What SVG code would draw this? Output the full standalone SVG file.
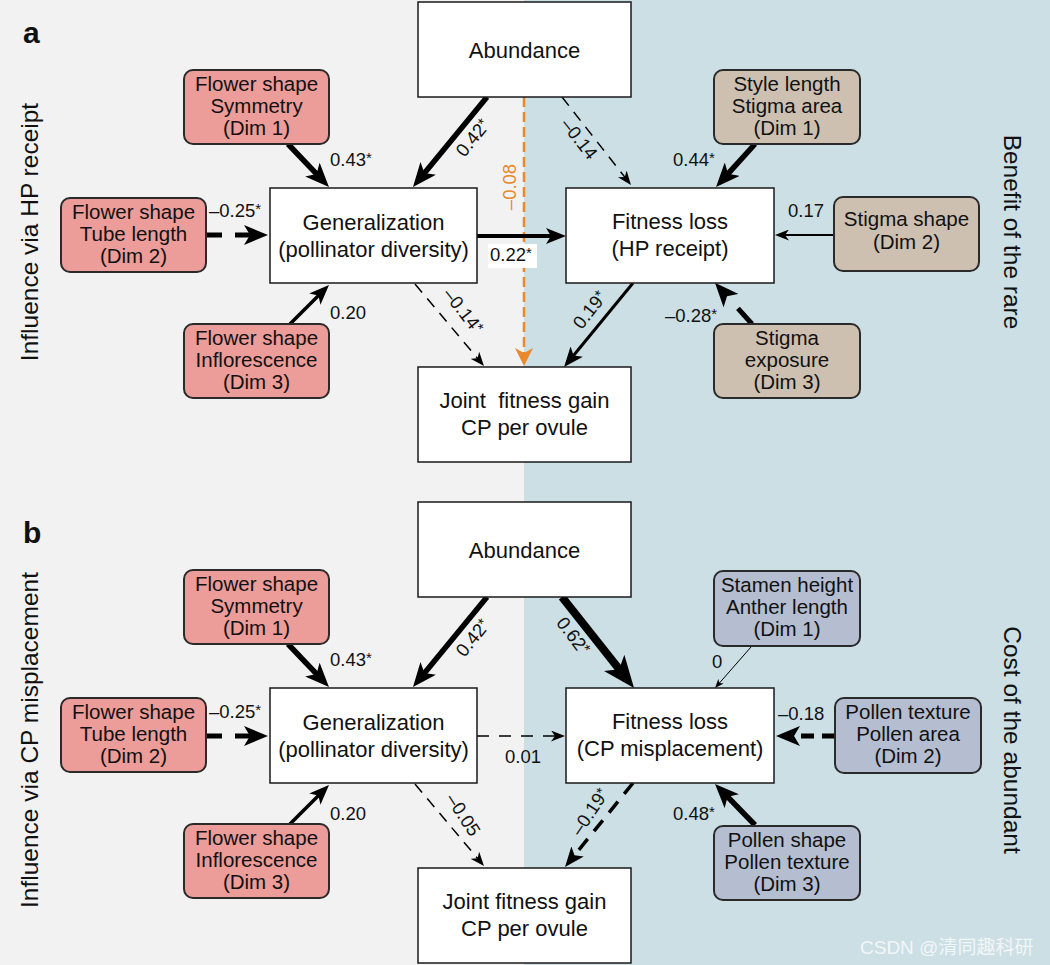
<svg xmlns="http://www.w3.org/2000/svg" width="1050" height="965" viewBox="0 0 1050 965">
<style>
text{font-family:"Liberation Sans",Arial,"Noto Sans CJK SC",sans-serif;fill:#111}
.main{fill:#fff;stroke:#1a1a1a;stroke-width:1.5}
.mt{font-size:22px;text-anchor:middle}
.pink{fill:#ec9c99;stroke:#2a2a2a;stroke-width:2}
.tan{fill:#cdc0b1;stroke:#2a2a2a;stroke-width:2}
.blu{fill:#b5bdd0;stroke:#2a2a2a;stroke-width:2}
.bt{font-size:20.5px;text-anchor:middle}
.lb{font-size:18.5px}
.lc{font-size:18.5px;text-anchor:middle}
.side{font-size:24.5px;text-anchor:middle}
.e{fill:none;stroke:#000}
.ast{font-size:15px}
</style>
<defs>
<marker id="ah-xl" viewBox="0 0 32 26" refX="11" refY="13" markerWidth="32" markerHeight="26" markerUnits="userSpaceOnUse" orient="auto"><path d="M32,13 L0,0 L8,13 L0,26 Z" fill="#000"/></marker>
<marker id="ah-l" viewBox="0 0 24 20" refX="9" refY="10" markerWidth="24" markerHeight="20" markerUnits="userSpaceOnUse" orient="auto"><path d="M24,10 L0,0 L6,10 L0,20 Z" fill="#000"/></marker>
<marker id="ah-m" viewBox="0 0 20 16" refX="7" refY="8" markerWidth="20" markerHeight="16" markerUnits="userSpaceOnUse" orient="auto"><path d="M20,8 L0,0 L5,8 L0,16 Z" fill="#000"/></marker>
<marker id="ah-s" viewBox="0 0 14 11" refX="5" refY="5.5" markerWidth="14" markerHeight="11" markerUnits="userSpaceOnUse" orient="auto"><path d="M14,5.5 L0,0 L4,5.5 L0,11 Z" fill="#000"/></marker>
<marker id="ah-xs" viewBox="0 0 9 7" refX="3" refY="3.5" markerWidth="9" markerHeight="7" markerUnits="userSpaceOnUse" orient="auto"><path d="M9,3.5 L0,0 L2.5,3.5 L0,7 Z" fill="#000"/></marker>
<marker id="ah-or" viewBox="0 0 18 18" refX="7" refY="9" markerWidth="18" markerHeight="18" markerUnits="userSpaceOnUse" orient="auto"><path d="M18,9 L0,0 L5,9 L0,18 Z" fill="#e8892b"/></marker>
</defs>

<!-- backgrounds -->
<rect x="0" y="0" width="524" height="965" fill="#f2f2f2"/>
<rect x="524" y="0" width="526" height="965" fill="#cbdfe5"/>

<!-- panel labels & side titles -->
<text x="23" y="43" style="font-size:30px;font-weight:bold">a</text>
<text x="23" y="543" style="font-size:30px;font-weight:bold">b</text>
<text class="side" transform="translate(38,232) rotate(-90)">Influence via HP receipt</text>
<text class="side" transform="translate(38,740) rotate(-90)">Influence via CP misplacement</text>
<text class="side" transform="translate(1004,232) rotate(90)">Benefit of the rare</text>
<text class="side" transform="translate(1004,740) rotate(90)">Cost of the abundant</text>

<!-- connectors -->
<g id="connectors">
  <!-- panel a -->
  <path class="e" d="M487,97 L422.5,175.4" stroke-width="5.5" marker-end="url(#ah-l)"/>
  <path d="M524,97 L524,355" fill="none" stroke="#e8892b" stroke-width="2.5" stroke-dasharray="10,5" marker-end="url(#ah-or)"/>
  <path class="e" d="M562,97 L625.4,177.9" stroke-width="1.5" stroke-dasharray="11,8" marker-end="url(#ah-s)"/>
  <path class="e" d="M477,236 L553,236" stroke-width="4" marker-end="url(#ah-m)"/>
  <path class="e" d="M415,284 L478.2,359.1" stroke-width="1.5" stroke-dasharray="11,8" marker-end="url(#ah-s)"/>
  <path class="e" d="M633,283 L572.3,357" stroke-width="3" marker-end="url(#ah-m)"/>
  <path class="e" d="M288,144 L318.6,176.1" stroke-width="5.5" marker-end="url(#ah-l)"/>
  <path class="e" d="M207,235 L253,235" stroke-width="5" stroke-dasharray="15,13" marker-end="url(#ah-l)"/>
  <path class="e" d="M290,324 L319.8,294.2" stroke-width="3.5" marker-end="url(#ah-m)"/>
  <path class="e" d="M755,144 L726.1,175.9" stroke-width="5.5" marker-end="url(#ah-l)"/>
  <path class="e" d="M834,235 L784,235" stroke-width="2" marker-end="url(#ah-s)"/>
  <path class="e" d="M752,324 L725,294" stroke-width="5" stroke-dasharray="21,30" marker-end="url(#ah-l)"/>
  <!-- panel b -->
  <path class="e" d="M487,597 L422.5,675.4" stroke-width="5.5" marker-end="url(#ah-l)"/>
  <path class="e" d="M562,597 L621,671.5" stroke-width="8" marker-end="url(#ah-xl)"/>
  <path class="e" d="M477,736 L556,736" stroke-width="1.5" stroke-dasharray="12,10" marker-end="url(#ah-s)"/>
  <path class="e" d="M415,784 L478.2,859.1" stroke-width="1.5" stroke-dasharray="11,8" marker-end="url(#ah-s)"/>
  <path class="e" d="M633,783 L573.2,856.9" stroke-width="3.5" stroke-dasharray="14,10" marker-end="url(#ah-m)"/>
  <path class="e" d="M288,644 L318.6,676.1" stroke-width="5.5" marker-end="url(#ah-l)"/>
  <path class="e" d="M207,736 L253,736" stroke-width="5" stroke-dasharray="15,13" marker-end="url(#ah-l)"/>
  <path class="e" d="M290,824 L319.8,794.2" stroke-width="3.5" marker-end="url(#ah-m)"/>
  <path class="e" d="M751,647 L719,683.5" stroke-width="1" marker-end="url(#ah-xs)"/>
  <path class="e" d="M835,736 L791,736" stroke-width="5" stroke-dasharray="13,8" marker-end="url(#ah-l)"/>
  <path class="e" d="M755,825 L725.5,794.7" stroke-width="5.5" marker-end="url(#ah-l)"/>

  <!-- labels panel a -->
  <text class="lb" x="330" y="166">0.43<tspan class="ast" dy="-3">*</tspan></text>
  <text class="lb" x="209" y="217">–0.25<tspan class="ast" dy="-3">*</tspan></text>
  <text class="lb" x="330" y="319">0.20</text>
  <text class="lc" transform="translate(473,138) rotate(-51)" y="6">0.42<tspan class="ast" dy="-3">*</tspan></text>
  <text class="lc" transform="translate(510,187) rotate(-90)" y="6" style="fill:#e8892b">–0.08</text>
  <text class="lc" transform="translate(579,139) rotate(52)" y="6">–0.14</text>
  <rect x="488" y="244" width="49" height="24" fill="#fff"/>
  <text class="lb" x="490" y="261">0.22<tspan class="ast" dy="-3">*</tspan></text>
  <text class="lc" transform="translate(463,311) rotate(52)" y="6">–0.14<tspan class="ast" dy="-3">*</tspan></text>
  <text class="lc" transform="translate(590,310) rotate(-52)" y="6">0.19<tspan class="ast" dy="-3">*</tspan></text>
  <text class="lb" x="673" y="166">0.44<tspan class="ast" dy="-3">*</tspan></text>
  <text class="lb" x="788" y="217">0.17</text>
  <text class="lb" x="665" y="322">–0.28<tspan class="ast" dy="-3">*</tspan></text>
  <!-- labels panel b -->
  <text class="lb" x="330" y="666">0.43<tspan class="ast" dy="-3">*</tspan></text>
  <text class="lb" x="209" y="718">–0.25<tspan class="ast" dy="-3">*</tspan></text>
  <text class="lb" x="330" y="820">0.20</text>
  <text class="lc" transform="translate(473,638) rotate(-51)" y="6">0.42<tspan class="ast" dy="-3">*</tspan></text>
  <text class="lc" transform="translate(573,636) rotate(53)" y="6">0.62<tspan class="ast" dy="-3">*</tspan></text>
  <text class="lb" x="505" y="763">0.01</text>
  <text class="lc" transform="translate(463,815) rotate(57)" y="6">–0.05</text>
  <text class="lc" transform="translate(590,812) rotate(-56)" y="6">–0.19<tspan class="ast" dy="-3">*</tspan></text>
  <text class="lb" x="712" y="668">0</text>
  <text class="lb" x="778" y="720">–0.18</text>
  <text class="lb" x="673" y="820">0.48<tspan class="ast" dy="-3">*</tspan></text>
</g>

<!-- panel a nodes -->
<g id="a-abundance"><rect class="main" x="418" y="2" width="213" height="95"/><text class="mt" x="524.5" y="58">Abundance</text></g>
<g id="a-generalization"><rect class="main" x="270" y="188" width="207" height="95"/><text class="mt" x="373.5" y="230">Generalization</text><text class="mt" x="373.5" y="257">(pollinator diversity)</text></g>
<g id="a-fitness"><rect class="main" x="566" y="188" width="208" height="95"/><text class="mt" x="670" y="229">Fitness loss</text><text class="mt" x="670" y="256">(HP receipt)</text></g>
<g id="a-joint"><rect class="main" x="418" y="367" width="213" height="95"/><text class="mt" x="524.5" y="408" xml:space="preserve">Joint  fitness gain</text><text class="mt" x="524.5" y="435">CP per ovule</text></g>
<g id="a-dim1"><rect class="pink" x="184" y="70" width="145" height="74" rx="9"/><text class="bt" x="256.5" y="91">Flower shape</text><text class="bt" x="256.5" y="113">Symmetry</text><text class="bt" x="256.5" y="135">(Dim 1)</text></g>
<g id="a-dim2"><rect class="pink" x="61" y="198" width="145" height="74" rx="9"/><text class="bt" x="133.5" y="219">Flower shape</text><text class="bt" x="133.5" y="241">Tube length</text><text class="bt" x="133.5" y="263">(Dim 2)</text></g>
<g id="a-dim3"><rect class="pink" x="184" y="324" width="145" height="74" rx="9"/><text class="bt" x="256.5" y="345">Flower shape</text><text class="bt" x="256.5" y="367">Inflorescence</text><text class="bt" x="256.5" y="389">(Dim 3)</text></g>
<g id="a-stig1"><rect class="tan" x="714" y="70" width="146" height="74" rx="9"/><text class="bt" x="787" y="91">Style length</text><text class="bt" x="787" y="113">Stigma area</text><text class="bt" x="787" y="135">(Dim 1)</text></g>
<g id="a-stig2"><rect class="tan" x="834" y="197" width="145" height="74" rx="9"/><text class="bt" x="906.5" y="226">Stigma shape</text><text class="bt" x="906.5" y="249">(Dim 2)</text></g>
<g id="a-stig3"><rect class="tan" x="714" y="324" width="146" height="74" rx="9"/><text class="bt" x="787" y="345">Stigma</text><text class="bt" x="787" y="367">exposure</text><text class="bt" x="787" y="389">(Dim 3)</text></g>

<!-- panel b nodes -->
<g id="b-abundance"><rect class="main" x="418" y="502" width="213" height="95"/><text class="mt" x="524.5" y="558">Abundance</text></g>
<g id="b-generalization"><rect class="main" x="270" y="688" width="207" height="95"/><text class="mt" x="373.5" y="730">Generalization</text><text class="mt" x="373.5" y="757">(pollinator diversity)</text></g>
<g id="b-fitness"><rect class="main" x="566" y="688" width="208" height="95"/><text class="mt" x="670" y="729">Fitness loss</text><text class="mt" x="670" y="756">(CP misplacement)</text></g>
<g id="b-joint"><rect class="main" x="418" y="868" width="213" height="95"/><text class="mt" x="524.5" y="909">Joint fitness gain</text><text class="mt" x="524.5" y="936">CP per ovule</text></g>
<g id="b-dim1"><rect class="pink" x="184" y="570" width="145" height="74" rx="9"/><text class="bt" x="256.5" y="591">Flower shape</text><text class="bt" x="256.5" y="613">Symmetry</text><text class="bt" x="256.5" y="635">(Dim 1)</text></g>
<g id="b-dim2"><rect class="pink" x="61" y="698" width="145" height="74" rx="9"/><text class="bt" x="133.5" y="719">Flower shape</text><text class="bt" x="133.5" y="741">Tube length</text><text class="bt" x="133.5" y="763">(Dim 2)</text></g>
<g id="b-dim3"><rect class="pink" x="184" y="824" width="145" height="74" rx="9"/><text class="bt" x="256.5" y="845">Flower shape</text><text class="bt" x="256.5" y="867">Inflorescence</text><text class="bt" x="256.5" y="889">(Dim 3)</text></g>
<g id="b-pol1"><rect class="blu" x="714" y="571" width="146" height="75" rx="9"/><text class="bt" x="787" y="592">Stamen height</text><text class="bt" x="787" y="614">Anther length</text><text class="bt" x="787" y="636">(Dim 1)</text></g>
<g id="b-pol2"><rect class="blu" x="835" y="698" width="146" height="75" rx="9"/><text class="bt" x="908" y="719">Pollen texture</text><text class="bt" x="908" y="741">Pollen area</text><text class="bt" x="908" y="763">(Dim 2)</text></g>
<g id="b-pol3"><rect class="blu" x="714" y="826" width="146" height="74" rx="9"/><text class="bt" x="787" y="847">Pollen shape</text><text class="bt" x="787" y="869">Pollen texture</text><text class="bt" x="787" y="891">(Dim 3)</text></g>

<text x="860" y="954" style="font-size:19px;fill:#f3f6f7;font-family:'Liberation Sans','Noto Sans CJK SC',sans-serif">CSDN @清同趣科研</text>
</svg>
